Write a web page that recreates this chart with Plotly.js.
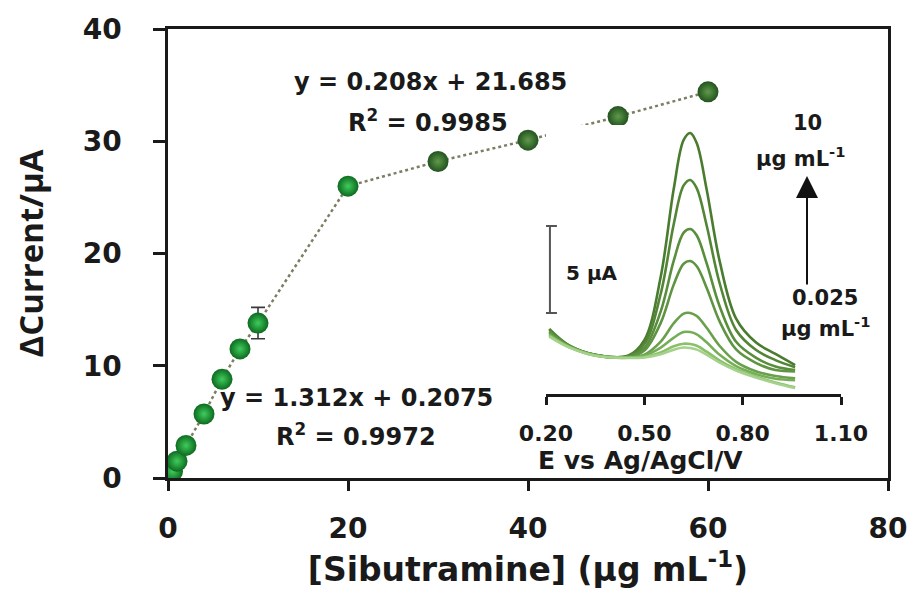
<!DOCTYPE html>
<html>
<head>
<meta charset="utf-8">
<script src="https://cdn.plot.ly/plotly-3.0.1.min.js"></script>
<style>html,body{margin:0;padding:0;background:#fff;}#chart{width:912px;height:590px;}</style>
</head>
<body>
<div id="chart"></div>
<script>
// ---- Calibration data (main plot) ----
var concentration = [0.025, 0.05, 0.1, 0.5, 1, 2, 4, 6, 8, 10, 20, 30, 40, 50, 60];
var deltaCurrent  = [0.05, 0.1, 0.2, 0.6, 1.5, 2.9, 5.7, 8.8, 11.5, 13.8, 26.0, 28.2, 30.1, 32.2, 34.4];
var currentError  = [0.1, 0.1, 0.1, 0.2, 0.2, 0.2, 0.3, 0.3, 0.3, 1.4, 0.3, 0.3, 0.3, 0.6, 0.4];

// ---- Inset DPV curves ----
var potential = [0.21, 0.27, 0.35, 0.45, 0.50, 0.55, 0.59, 0.62, 0.64, 0.66, 0.69, 0.73, 0.78, 0.84, 0.90, 0.96];
var curve1 = [3.74, 2.80, 2.26, 2.20, 3.09, 6.74, 11.82, 14.60, 15.00, 14.41, 11.77, 7.62, 4.33, 2.97, 2.30, 1.66];
var curve2 = [3.70, 2.79, 2.25, 2.18, 2.87, 5.76, 9.79, 11.99, 12.30, 11.82, 9.70, 6.35, 3.68, 2.54, 1.95, 1.54];
var curve3 = [3.60, 2.77, 2.24, 2.15, 2.65, 4.75, 7.68, 9.27, 9.48, 9.11, 7.52, 5.03, 3.00, 2.09, 1.58, 1.38];
var curve4 = [3.55, 2.76, 2.24, 2.13, 2.50, 4.09, 6.30, 7.49, 7.64, 7.34, 6.11, 4.16, 2.56, 1.79, 1.38, 1.30];
var curve5 = [3.45, 2.74, 2.23, 2.09, 2.26, 3.01, 4.07, 4.62, 4.66, 4.48, 3.81, 2.76, 1.85, 1.31, 1.03, 0.90];
var curve6 = [3.40, 2.72, 2.22, 2.08, 2.21, 2.67, 3.24, 3.56, 3.56, 3.43, 2.97, 2.25, 1.60, 1.15, 0.88, 0.80];
var curve7 = [3.35, 2.70, 2.21, 2.08, 2.13, 2.39, 2.74, 2.89, 2.87, 2.77, 2.43, 1.92, 1.42, 1.00, 0.66, 0.38];
var curve8 = [3.30, 2.68, 2.20, 2.07, 2.10, 2.28, 2.55, 2.67, 2.64, 2.55, 2.26, 1.80, 1.35, 0.95, 0.62, 0.34];
var curves = [curve1, curve2, curve3, curve4, curve5, curve6, curve7, curve8];

// scale bar (5 µA)
var scaleBarE = [0.212];
var scaleBarMid = [7.16];
var scaleBarHalf = [2.5];

// tick labels
var xTicks = [0, 20, 40, 60, 80];
var yTicks = [0, 10, 20, 30, 40];
var insetTicks = [0.2, 0.5, 0.8, 1.1];
var insetTickText = ['0.20', '0.50', '0.80', '1.10'];

var curveColors = ['#4a7c30', '#528636', '#598e3c', '#5e9442', '#68a04c', '#76ae58', '#8abf6c', '#a5d28a'];
var HF = 'DejaVu Sans, sans-serif';

var traces = [];
curves.forEach(function (c, i) {
  traces.push({
    x: potential, y: c, xaxis: 'x2', yaxis: 'y2', mode: 'lines', type: 'scatter',
    line: {color: curveColors[i], width: 2.6, shape: 'spline', smoothing: 1},
    hoverinfo: 'skip', showlegend: false
  });
});
traces.push({
  x: scaleBarE, y: scaleBarMid, xaxis: 'x2', yaxis: 'y2', mode: 'markers', type: 'scatter',
  marker: {size: 1, opacity: 0},
  error_y: {type: 'data', array: scaleBarHalf, visible: true, color: '#555555', thickness: 2, width: 7},
  showlegend: false, hoverinfo: 'skip'
});
traces.push({
  x: concentration, y: deltaCurrent, mode: 'lines', type: 'scatter',
  line: {color: '#7d7d62', width: 2.5, dash: 'dot'}, showlegend: false, hoverinfo: 'skip'
});
traces.push({
  x: concentration, y: deltaCurrent, mode: 'markers', type: 'scatter',
  error_y: {type: 'data', array: currentError, visible: true, color: '#3a3a3a', thickness: 1.6, width: 7},
  marker: {
    size: 21,
    color: concentration.map(function (v) { return v > 20 ? '#23521f' : '#0d6a1f'; }),
    gradient: {type: 'radial', color: concentration.map(function (v) { return v > 20 ? '#5f9a4a' : '#3fcc5c'; })},
    line: {width: 0}
  },
  showlegend: false
});

function px2x(p) { return (p - 168) / 720; }
function px2y(p) { return (478 - p) / 449; }

var annFont = {family: HF, size: 24, color: '#1a1a1a', weight: 'bold'};
var insFont = {family: HF, size: 21, color: '#1a1a1a', weight: 'bold'};

function label(px, py, text, font) {
  return {xref: 'paper', yref: 'paper', x: px2x(px), y: px2y(py), text: text, showarrow: false,
          xanchor: 'center', yanchor: 'middle', font: font};
}

var layout = {
  width: 912, height: 590,
  margin: {l: 168, r: 24, t: 29, b: 112},
  paper_bgcolor: '#ffffff', plot_bgcolor: '#ffffff',
  showlegend: false,
  xaxis: {
    range: [0, 80], tickvals: xTicks, ticks: 'outside', ticklen: 10, tickwidth: 2.5, tickcolor: '#1a1a1a',
    showline: true, linecolor: '#1a1a1a', linewidth: 2.5, mirror: true,
    showgrid: false, zeroline: false, ticklabelstandoff: 14,
    tickfont: {family: HF, size: 28, color: '#1a1a1a', weight: 'bold'},
    title: {text: '[Sibutramine] (µg mL<sup>-1</sup>)', standoff: 14,
            font: {family: HF, size: 33, color: '#1a1a1a', weight: 'bold'}}
  },
  yaxis: {
    range: [0, 40], tickvals: yTicks, ticks: 'outside', ticklen: 12, tickwidth: 2.5, tickcolor: '#1a1a1a',
    showline: true, linecolor: '#1a1a1a', linewidth: 2.5, mirror: true,
    showgrid: false, zeroline: false, ticklabelstandoff: 26,
    tickfont: {family: HF, size: 28, color: '#1a1a1a', weight: 'bold'},
    title: {text: 'ΔCurrent/µA', standoff: 30,
            font: {family: 'Open Sans, sans-serif', size: 33, color: '#1a1a1a', weight: 'bold'}}
  },
  xaxis2: {
    domain: [px2x(546), px2x(841)], anchor: 'y2', range: [0.2, 1.1],
    tickvals: insetTicks, ticktext: insetTickText, ticks: 'outside', ticklen: 8, tickwidth: 2.5, tickcolor: '#1a1a1a',
    showline: true, linecolor: '#1a1a1a', linewidth: 2.5, showgrid: false, zeroline: false,
    ticklabelstandoff: 10,
    tickfont: {family: HF, size: 22, color: '#1a1a1a', weight: 'bold'}
  },
  yaxis2: {
    domain: [px2y(394), px2y(125)], anchor: 'x2', range: [0, 15.46], visible: false
  },
  annotations: [
    label(430, 82, 'y = 0.208x + 21.685', annFont),
    label(428, 121, 'R<sup>2</sup> = 0.9985', annFont),
    label(356, 398, 'y = 1.312x + 0.2075', annFont),
    label(356, 435, 'R<sup>2</sup> = 0.9972', annFont),
    label(592, 273, '5 µA', {family: HF, size: 20, color: '#1a1a1a', weight: 'bold'}),
    label(807, 123, '10', insFont),
    label(800, 157, 'µg mL<sup>-1</sup>', insFont),
    label(825, 298, '0.025', insFont),
    label(825, 327, 'µg mL<sup>-1</sup>', insFont),
    label(640, 460, 'E vs Ag/AgCl/V', {family: HF, size: 25, color: '#1a1a1a', weight: 'bold'}),
    {xref: 'paper', yref: 'paper', x: px2x(807), y: px2y(176), ax: 0, ay: 110, text: '', showarrow: true,
     arrowhead: 2, arrowsize: 2.2, arrowwidth: 2, arrowcolor: '#111111'}
  ]
};

Plotly.newPlot('chart', traces, layout, {displayModeBar: false});
</script>
</body>
</html>
